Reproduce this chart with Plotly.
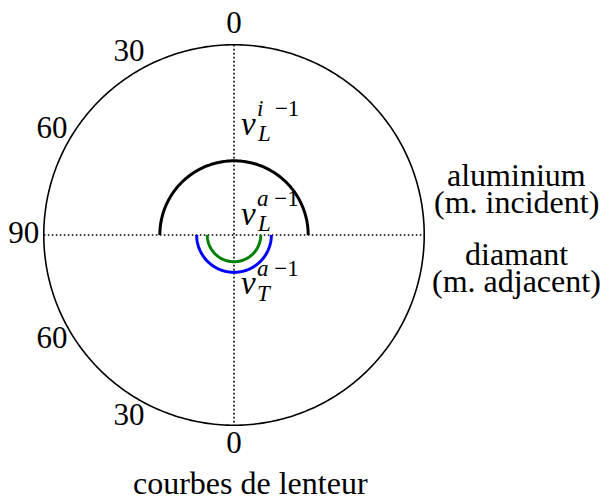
import numpy as np
import plotly.graph_objects as go

# --- data (slowness, s/km) ---
frame_radius = 0.40                 # outer circle of the diagram
alu_slowness_L = [0.156]            # aluminium, longitudinal (incident medium)
dia_slowness_T = [0.0785]           # diamond, transverse (adjacent medium)
dia_slowness_L = [0.0562]           # diamond, longitudinal (adjacent medium)
angle_ticks = [0, 30, 60, 90, 120, 150, 180]
angle_labels = ["0", "30", "60", "90", "60", "30", "0"]

FONT = "Liberation Serif"
W, H = 612, 499
RANGE_MAX = 0.45                    # radial range (room for the angle labels)
LABEL_R = 1.105                     # angle labels just outside the frame circle
CX, CY, RPX = 234, 235, 190         # frame circle centre / radius in pixels
half = RPX * RANGE_MAX / frame_radius
L, T = CX - half, CY - half
R, B = W - (CX + half), H - (CY + half)


def px(x, y):
    return (x - L) / (W - L - R), (H - B - y) / (H - T - B)


fig = go.Figure()

# frame circle
full = np.linspace(0, 360, 361)
fig.add_trace(go.Scatterpolar(r=[frame_radius] * len(full), theta=full, mode="lines",
                              line=dict(color="black", width=1.6), hoverinfo="skip"))

# dotted axes
dot = dict(color="black", width=1.6, dash="1.6px,2.4px")
fig.add_trace(go.Scatterpolar(r=[frame_radius, 0, frame_radius], theta=[0, 0, 180],
                              mode="lines", line=dot, hoverinfo="skip"))
fig.add_trace(go.Scatterpolar(r=[frame_radius, 0, frame_radius], theta=[90, 90, 270],
                              mode="lines", line=dot, hoverinfo="skip"))

top = np.linspace(-90, 90, 181)
bottom = np.linspace(90, 270, 181)
fig.add_trace(go.Scatterpolar(r=alu_slowness_L * len(top), theta=top, mode="lines",
                              line=dict(color="black", width=3)))
fig.add_trace(go.Scatterpolar(r=dia_slowness_T * len(bottom), theta=bottom, mode="lines",
                              line=dict(color="#0000ff", width=3)))
fig.add_trace(go.Scatterpolar(r=dia_slowness_L * len(bottom), theta=bottom, mode="lines",
                              line=dict(color="#008000", width=3)))

# angle labels around the frame
fig.add_trace(go.Scatterpolar(r=[frame_radius * LABEL_R] * len(angle_ticks), theta=angle_ticks,
                              mode="text", text=angle_labels, textposition="middle center",
                              textfont=dict(family=FONT, size=31, color="black"),
                              cliponaxis=False, hoverinfo="skip"))

fig.update_layout(
    width=W, height=H, showlegend=False,
    margin=dict(l=L, r=R, t=T, b=B),
    paper_bgcolor="white",
    font=dict(family=FONT, size=32, color="black"),
    polar=dict(
        bgcolor="rgba(0,0,0,0)",
        radialaxis=dict(visible=False, range=[0, RANGE_MAX]),
        angularaxis=dict(rotation=90, direction="counterclockwise",
                         showticklabels=False, showgrid=False, showline=False, ticks=""),
    ),
)

ann = []


def add(text, x, y, size=33, xa="center"):
    xp, yp = px(x, y)
    ann.append(dict(text=text, x=xp, y=yp, xref="paper", yref="paper", showarrow=False,
                    xanchor=xa, yanchor="middle", font=dict(family=FONT, size=size, color="black")))


add("aluminium", 516, 175, size=32)
add("(m. incident)", 516, 202, size=32)
add("diamant", 516, 254, size=32)
add("(m. adjacent)", 516, 281, size=32)
add("courbes de lenteur", 250, 483, size=32)

# slowness labels: v with stacked superscript / subscript
for vy, sup, sub in [(124, "<i>i</i>  −1", "<i>L</i>"),
                     (214, "<i>a</i> −1", "<i>L</i>"),
                     (283, "<i>a</i> −1", "<i>T</i>")]:
    add("<i>v</i>", 239, vy, size=33, xa="left")
    add(sup, 255, vy - 15, size=23, xa="left")
    add(sub, 255, vy + 10, size=23, xa="left")

fig.update_layout(annotations=ann)
fig.write_html("out.html", config={"displayModeBar": False},
               post_script="document.body.style.margin='0';"
                           "document.documentElement.style.overflow='hidden';")
